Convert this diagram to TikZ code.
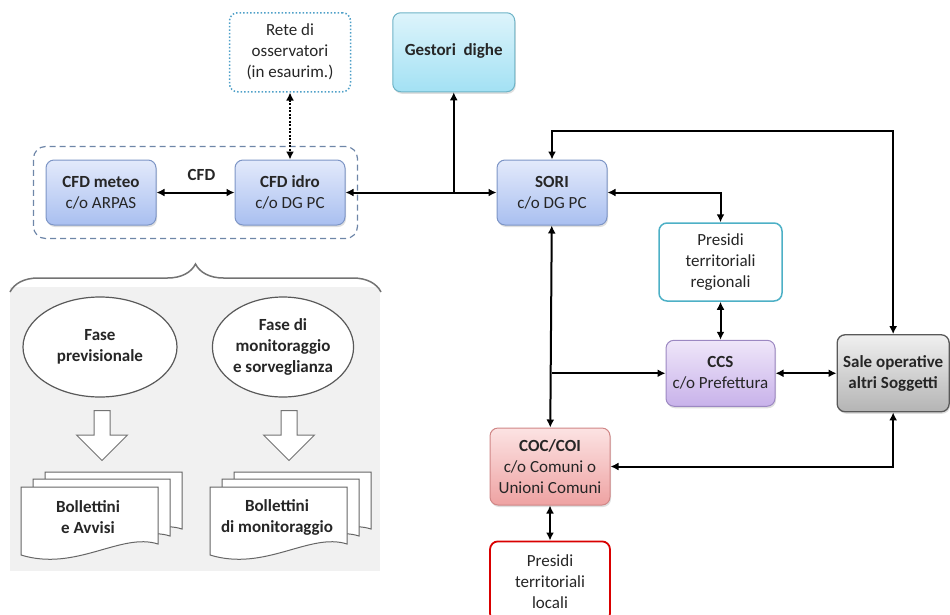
\documentclass[tikz,border=0pt]{standalone}
\usepackage{fontspec}
\setmainfont{Carlito}
\usepackage{xcolor}
\usepackage{tikz}
\usetikzlibrary{shapes.geometric, shapes.arrows, arrows.meta, positioning, calc, fit, decorations.pathreplacing, shadows}

\definecolor{bluetop}{HTML}{E3EAFB}
\definecolor{bluebot}{HTML}{A9BFF0}
\definecolor{blueline}{HTML}{7D95C6}
\definecolor{cyantop}{HTML}{DDF4FB}
\definecolor{cyanbot}{HTML}{A3E1F4}
\definecolor{cyanline}{HTML}{6EB3C6}
\definecolor{lilatop}{HTML}{EFE6F9}
\definecolor{lilabot}{HTML}{C8B2EA}
\definecolor{lilaline}{HTML}{9C88C2}
\definecolor{greytop}{HTML}{F0F0F0}
\definecolor{greybot}{HTML}{B4B4B4}
\definecolor{pinktop}{HTML}{FCE3E3}
\definecolor{pinkbot}{HTML}{EEA2A2}
\definecolor{pinkline}{HTML}{D08686}
\definecolor{tealline}{HTML}{4DB0C6}
\definecolor{reteline}{HTML}{4FA0C8}
\definecolor{cfdline}{HTML}{6E86A8}
\definecolor{panelgrey}{HTML}{F1F1F1}

\begin{document}
\begin{tikzpicture}[x=1pt, y=-1pt, >={Latex[length=8pt,width=8pt]},
    every node/.style={font=\fontsize{17}{21}\selectfont, text=black!85},
    box/.style={rectangle, draw, rounded corners=8pt, line width=1pt, align=center, inner sep=2pt},
    shadowed/.style={drop shadow={shadow xshift=1pt, shadow yshift=-2pt, opacity=0.25}},
    bluebox/.style={box, shadowed, top color=bluetop, bottom color=bluebot, draw=blueline, minimum width=110pt, minimum height=65pt},
    link/.style={line width=2pt},
    phase/.style={ellipse, draw=black!65, fill=white, line width=1.2pt, align=center, inner sep=0pt},
    blockarrow/.style={single arrow, draw=black!55, fill=white, line width=1pt, shape border rotate=270, minimum height=50pt, inner sep=7.5pt, single arrow head extend=17.5pt},
    pics/docstack/.style={code={
        \foreach \o/\v in {24/-15,12/-8,0/0}{
            \draw[black!60, line width=1pt, fill=white, shift={(\o,\v)}] (0,0) -- (137,0) -- (137,57) .. controls (100,45) and (55,85) .. (0,68) -- cycle;
        }
    }}
]
    \useasboundingbox (0,0) rectangle (950,614);

    % Nodes
    \node (meteo) [bluebox] at (101,192.5) {\textbf{CFD meteo}\\c/o ARPAS};
    \node (idro) [bluebox, right=78pt of meteo] {\textbf{CFD idro}\\c/o DG PC};
    \node (rete) [box, draw=reteline, line width=1.5pt, dash pattern=on 1.5pt off 2pt, minimum width=121pt, minimum height=79pt, above=67pt of idro] {Rete di\\osservatori\\(in esaurim.)};
    \node (dighe) [box, shadowed, top color=cyantop, bottom color=cyanbot, draw=cyanline, minimum width=122pt, minimum height=79pt, right=41pt of rete] {\raisebox{5pt}{\textbf{Gestori\ \ dighe}}};
    \node (sori) [bluebox, right=151pt of idro] {\textbf{SORI}\\c/o DG PC};
    \node (cfd) [fit=(meteo)(idro), inner xsep=12pt, inner ysep=13pt, draw=cfdline, dash pattern=on 6pt off 4pt, line width=1.2pt, rounded corners=12pt] {};

    \node (presreg) [box, fill=white, draw=tealline, line width=1.5pt, minimum width=123pt, minimum height=78pt] at (720.5,262) {Presidi\\territoriali\\regionali};
    \node (ccs) [box, shadowed, top color=lilatop, bottom color=lilabot, draw=lilaline, minimum width=109pt, minimum height=66pt, below=38pt of presreg] {\textbf{CCS}\\c/o Prefettura};
    \node (sale) [box, shadowed, top color=greytop, bottom color=greybot, draw=black!65, line width=1.3pt, minimum width=112pt, minimum height=77pt, right=61pt of ccs] {\textbf{Sale operative}\\\textbf{altri\ Soggetti}};
    \node (coc) [box, shadowed, top color=pinktop, bottom color=pinkbot, draw=pinkline, minimum width=120pt, minimum height=77pt] at (550,466.5) {\textbf{COC/COI}\\c/o Comuni o\\Unioni Comuni};
    \node (presloc) [box, fill=white, draw=red!85!black, line width=1.8pt, minimum width=120pt, minimum height=80pt, below=35pt of coc] {Presidi\\territoriali\\locali};

    % Left panel
    \fill[panelgrey] (10,287) rectangle (380,571);
    \draw[black!55, line width=1.5pt, decorate, decoration={brace, amplitude=28pt}] (10,292) -- (381,292);

    \node (prev) [phase, minimum width=154pt, minimum height=100pt] at (100,347) {\textbf{Fase}\\\textbf{previsionale}};
    \node (mon) [phase, minimum width=140pt, minimum height=100pt] at (283,347) {\textbf{Fase di}\\\textbf{monitoraggio}\\\textbf{e sorveglianza}};
    \node (arrprev) [blockarrow, anchor=tail] at (102,410) {};
    \node (arrmon) [blockarrow, anchor=tail] at (289,410) {};

    \pic at (21,487) {docstack};
    \pic at (210,487) {docstack};
    \node (bolprev) [align=center] at (88,517.5) {\textbf{Bollettini}\\\textbf{e Avvisi}};
    \node (bolmon) [align=center] at (277,517.5) {\textbf{Bollettini}\\\textbf{di\ monitoraggio}};

    % Edges
    \coordinate (jd) at (idro -| dighe);
    \coordinate (jc) at (sori |- ccs);
    \draw[<->, link] (meteo) -- node[above=8pt, xshift=6pt] {\textbf{CFD}} (idro);
    \draw[<->, link, dash pattern=on 2pt off 1.5pt] (rete) -- (idro);
    \draw[<->, link] (idro) -- (sori);
    \draw[->, link] (jd) -- (dighe);
    \draw[<->, link] (sori.north) -- ++(0,-29) -| (sale.north);
    \draw[<->, link] (sori.east) -| (presreg.north);
    \draw[<->, link] (presreg) -- (ccs);
    \draw[<->, link] (ccs) -- (sale);
    \draw[<->, link] (sori) -- (coc);
    \draw[->, link] (jc) -- (ccs);
    \draw[<->, link] (coc.east) -| (sale.south);
    \draw[<->, link] (coc) -- (presloc);
\end{tikzpicture}
\end{document}
